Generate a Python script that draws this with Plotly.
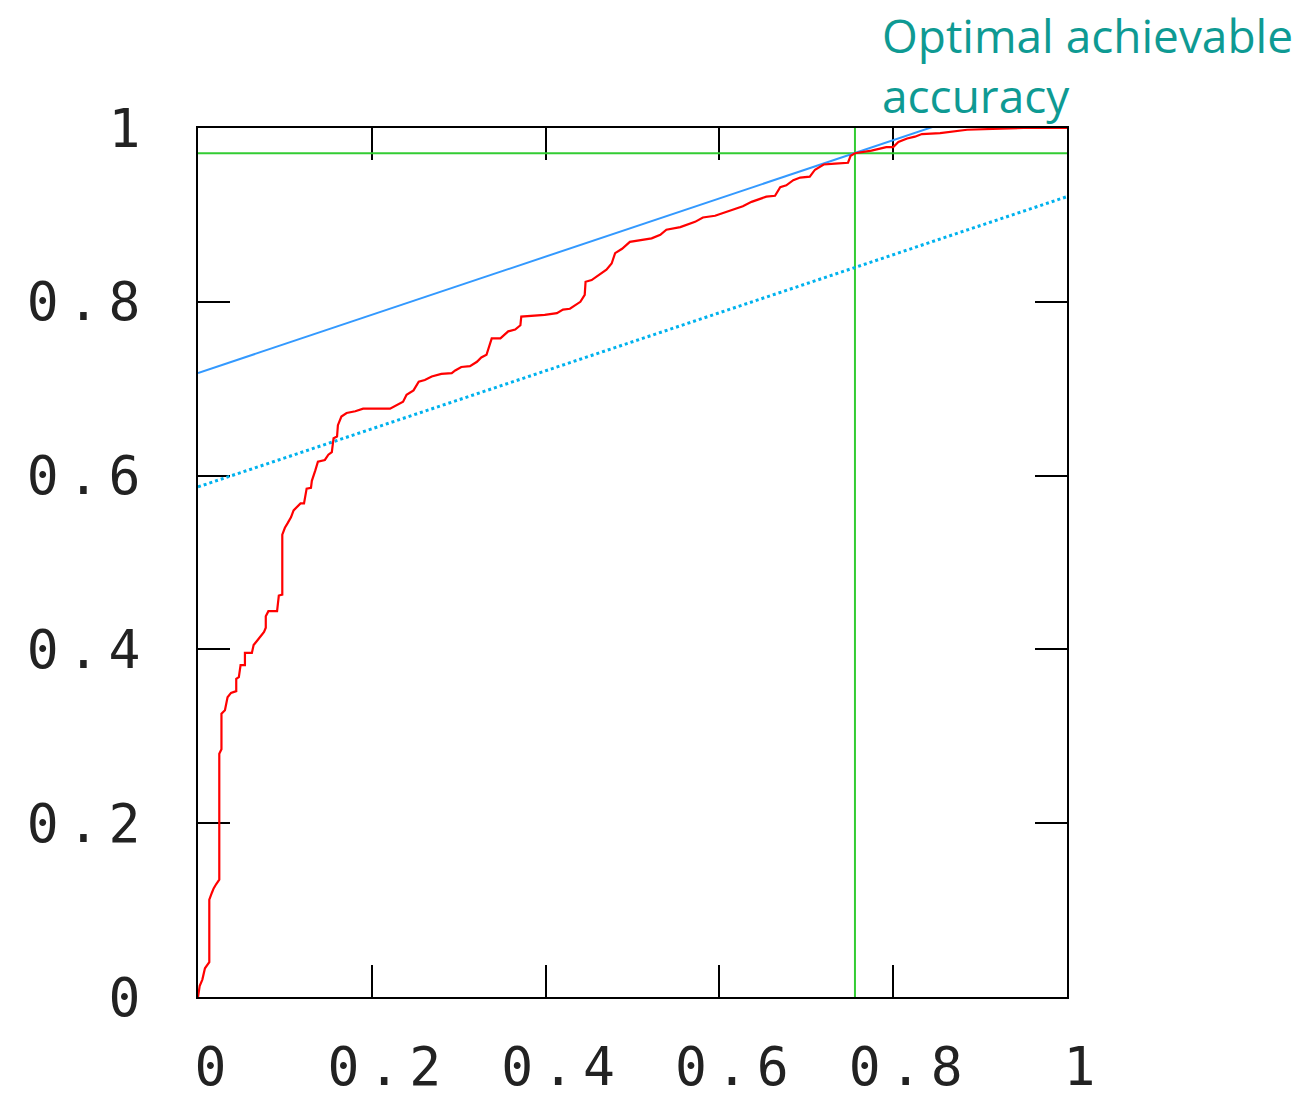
import plotly.graph_objects as go

# ROC curve (false positive rate, true positive rate)
roc_fpr = [0.0, 0.002, 0.005, 0.008, 0.013, 0.013, 0.016, 0.018, 0.021, 0.0245, 0.0245, 0.027, 0.027,
           0.031, 0.034, 0.038, 0.044, 0.044, 0.047, 0.049, 0.054, 0.054, 0.062, 0.064, 0.068, 0.071,
           0.076, 0.078, 0.078, 0.081, 0.091, 0.093, 0.097, 0.097, 0.100, 0.103, 0.107, 0.110,
           0.118, 0.122, 0.124, 0.125, 0.130, 0.131,
           0.135, 0.138, 0.146, 0.150, 0.154, 0.156, 0.160, 0.161, 0.165, 0.171, 0.181, 0.190, 0.221,
           0.229, 0.236, 0.240, 0.248, 0.254, 0.261, 0.269, 0.280, 0.292, 0.296, 0.303, 0.313, 0.321,
           0.326, 0.332, 0.336, 0.338, 0.348, 0.353, 0.357, 0.365, 0.371, 0.372, 0.399, 0.413, 0.420,
           0.428, 0.434, 0.440, 0.445, 0.446, 0.453,
           0.4626, 0.470, 0.476, 0.480, 0.488, 0.497, 0.522, 0.532, 0.539, 0.555, 0.572, 0.581, 0.595,
           0.604, 0.616, 0.627, 0.637, 0.647, 0.654, 0.664, 0.670, 0.677, 0.685, 0.693, 0.704, 0.710,
           0.720, 0.733, 0.748, 0.751, 0.756, 0.775, 0.792, 0.800, 0.806, 0.816, 0.825, 0.833, 0.854,
           0.885, 0.950, 1.0]
roc_tpr = [0.0, 0.013, 0.020, 0.033, 0.040, 0.112, 0.120, 0.125, 0.130, 0.135, 0.280, 0.285, 0.326,
           0.330, 0.345, 0.350, 0.352, 0.366, 0.368, 0.382, 0.382, 0.396, 0.396, 0.405, 0.410, 0.414,
           0.420, 0.425, 0.438, 0.444, 0.444, 0.462, 0.463, 0.532, 0.540, 0.545, 0.552, 0.560,
           0.568, 0.568, 0.579, 0.585, 0.586, 0.594,
           0.606, 0.616, 0.618, 0.624, 0.627, 0.643, 0.645, 0.658, 0.668, 0.672, 0.674, 0.677, 0.677,
           0.681, 0.685, 0.693, 0.698, 0.708, 0.710, 0.714, 0.717, 0.718, 0.721, 0.725, 0.726, 0.731,
           0.736, 0.739, 0.750, 0.758, 0.758, 0.762, 0.766, 0.768, 0.773, 0.783, 0.785, 0.787, 0.791,
           0.792, 0.796, 0.800, 0.808, 0.823, 0.825,
           0.832, 0.837, 0.844, 0.856, 0.861, 0.869, 0.873, 0.877, 0.883, 0.886, 0.892, 0.897, 0.899,
           0.902, 0.906, 0.910, 0.915, 0.918, 0.921, 0.922, 0.932, 0.934, 0.940, 0.943, 0.944, 0.952,
           0.958, 0.959, 0.960, 0.968, 0.971, 0.974, 0.978, 0.978, 0.984, 0.988, 0.990, 0.993, 0.994,
           0.998, 1.0, 1.0]

# Iso-accuracy lines (tangent and lower parallel line)
iso_x = [0.0, 1.0]
iso_tangent_y = [0.718, 1.053]
iso_lower_y = [0.587, 0.921]

# Optimal operating point
opt_fpr = 0.756
opt_tpr = 0.971

tick_vals = [0, 0.2, 0.4, 0.6, 0.8, 1]
tick_text = ["0", "0.2", "0.4", "0.6", "0.8", "1"]

tick_text_styled = ["<span style='letter-spacing:9px'>%s</span>" % t for t in tick_text]

fig = go.Figure()

fig.add_trace(go.Scatter(x=[opt_fpr, opt_fpr], y=[0, 1], mode="lines",
                         line=dict(color="#33cc33", width=2), showlegend=False))
fig.add_trace(go.Scatter(x=[0, 1], y=[opt_tpr, opt_tpr], mode="lines",
                         line=dict(color="#33cc33", width=2), showlegend=False))
fig.add_trace(go.Scatter(x=iso_x, y=iso_lower_y, mode="lines",
                         line=dict(color="#00b2ee", width=3, dash="dot"), showlegend=False))
fig.add_trace(go.Scatter(x=iso_x, y=iso_tangent_y, mode="lines",
                         line=dict(color="#3399ff", width=2), showlegend=False))
fig.add_trace(go.Scatter(x=roc_fpr, y=roc_tpr, mode="lines",
                         line=dict(color="#ff0000", width=2.2), showlegend=False))

axis_common = dict(
    range=[0, 1], tickvals=tick_vals, ticktext=tick_text_styled,
    ticks="inside", ticklen=32, tickwidth=2, tickcolor="black",
    showline=True, linecolor="black", linewidth=2, mirror="ticks",
    showgrid=False, zeroline=False, layer="below traces", automargin=False,
    tickfont=dict(family="DejaVu Sans Mono", size=53, color="#222222"),
)

fig.update_layout(
    width=1303, height=1098,
    margin=dict(l=198, r=236, t=128, b=101, autoexpand=False),
    paper_bgcolor="white", plot_bgcolor="white",
    xaxis=dict(**axis_common, ticklabelshift=17, ticklabelstandoff=22),
    yaxis=dict(**axis_common, ticklabelstandoff=36),
    annotations=[dict(
        text="Optimal achievable<br>accuracy", xref="paper", yref="paper",
        x=0.786, y=1.144, xanchor="left", yanchor="top", align="left",
        showarrow=False, borderpad=0,
        font=dict(family="Open Sans", size=46, color="#0e9a93"),
    )],
)

fig.write_html("out.html", config={"displayModeBar": False},
               post_script="document.body.style.margin='0';document.body.style.overflow='hidden';")
